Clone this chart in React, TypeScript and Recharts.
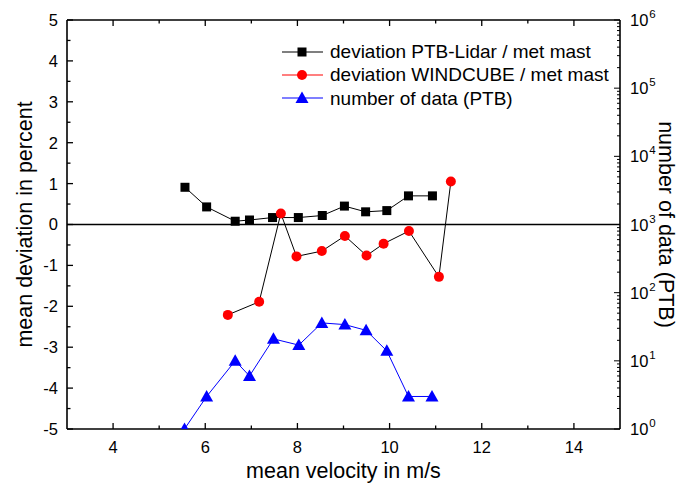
import React from 'react';
import { LineChart, Line, XAxis, YAxis, ReferenceLine, Legend, Label } from 'recharts';

// ---- data ----
const ptbVelocity = [5.56, 6.03, 6.65, 6.96, 7.46, 8.02, 8.54, 9.02, 9.48, 9.94, 10.41, 10.93];
const ptbDeviation = [0.91, 0.43, 0.08, 0.11, 0.17, 0.17, 0.22, 0.45, 0.31, 0.34, 0.7, 0.7];

const wcVelocity = [6.49, 7.17, 7.64, 7.98, 8.53, 9.03, 9.5, 9.87, 10.42, 11.07, 11.33];
const wcDeviation = [-2.21, -1.89, 0.27, -0.78, -0.65, -0.28, -0.76, -0.47, -0.16, -1.28, 1.05];

const countVelocity = [5.55, 6.03, 6.65, 6.96, 7.48, 8.03, 8.53, 9.03, 9.49, 9.94, 10.41, 10.92];
const countData = [1, 3, 10, 6, 21, 17, 36, 34, 28, 14, 3, 3];

// ---- ticks ----
const xTicks = [4, 5, 6, 7, 8, 9, 10, 11, 12, 13, 14];
const xMajorTicks = [4, 6, 8, 10, 12, 14];
const yTicks = [-5, -4.5, -4, -3.5, -3, -2.5, -2, -1.5, -1, -0.5, 0, 0.5, 1, 1.5, 2, 2.5, 3, 3.5, 4, 4.5, 5];
const rMajorTicks = [1, 10, 100, 1000, 10000, 100000, 1000000];
const rExponents = ['0', '1', '2', '3', '4', '5', '6'];
const rMinorMultipliers = [2, 3, 4, 5, 6, 7, 8, 9];

const rTicks: number[] = [];
rMajorTicks.forEach((m, i) => {
  rTicks.push(m);
  if (i < rMajorTicks.length - 1) rMinorMultipliers.forEach((k) => rTicks.push(m * k));
});

const seriesNames = [
  'deviation PTB-Lidar / met mast',
  'deviation WINDCUBE / met mast',
  'number of data (PTB)',
];
const seriesColors = ['#000000', '#ff0000', '#0000ff'];

const ptbData = ptbVelocity.map((x, i) => ({ x, y: ptbDeviation[i] }));
const wcData = wcVelocity.map((x, i) => ({ x, y: wcDeviation[i] }));
const countSeries = countVelocity.map((x, i) => ({ x, y: countData[i] }));

const FONT = '"Liberation Sans", Arial, sans-serif';
const TICK_FONT = 16.5;
const TITLE_FONT = 21.5;

// ---- tick renderers (ticks point inward) ----
const BottomTick = (props: any) => {
  const { x, y, payload } = props;
  const major = xMajorTicks.includes(payload.value);
  return (
    <g>
      <line x1={x} x2={x} y1={y} y2={y - (major ? 6 : 3.5)} stroke="#000" strokeWidth={1.3} />
      {major && (
        <text x={x} y={y + 24} textAnchor="middle" fontSize={TICK_FONT} fontFamily={FONT} fill="#000">
          {payload.value}
        </text>
      )}
    </g>
  );
};

const TopTick = (props: any) => {
  const { x, y, payload } = props;
  const major = xMajorTicks.includes(payload.value);
  return <line x1={x} x2={x} y1={y} y2={y + (major ? 6 : 3.5)} stroke="#000" strokeWidth={1.3} />;
};

const LeftTick = (props: any) => {
  const { x, y, payload } = props;
  const major = Number.isInteger(payload.value);
  return (
    <g>
      <line x1={x} x2={x + (major ? 6 : 3.5)} y1={y} y2={y} stroke="#000" strokeWidth={1.3} />
      {major && (
        <text x={x - 9} y={y} dy="0.36em" textAnchor="end" fontSize={TICK_FONT} fontFamily={FONT} fill="#000">
          {payload.value}
        </text>
      )}
    </g>
  );
};

const RightTick = (props: any) => {
  const { x, y, payload } = props;
  const idx = rMajorTicks.indexOf(payload.value);
  const major = idx >= 0;
  return (
    <g>
      <line x1={x} x2={x - (major ? 6 : 3)} y1={y} y2={y} stroke="#000" strokeWidth={1} />
      {major && (
        <text x={x + 10} y={y + 6} textAnchor="start" fontSize={TICK_FONT} fontFamily={FONT} fill="#000">
          10
          <tspan dx={1} dy={-8} fontSize={11.5}>
            {rExponents[idx]}
          </tspan>
        </text>
      )}
    </g>
  );
};

// ---- markers ----
const squareDot = (p: any) => (
  <rect key={`s${p.index}`} x={p.cx - 4.5} y={p.cy - 4.5} width={9} height={9} fill="#000" />
);
const circleDot = (p: any) => (
  <circle key={`c${p.index}`} cx={p.cx} cy={p.cy} r={5} fill="#ff0000" />
);
const triangleDot = (p: any) => (
  <polygon
    key={`t${p.index}`}
    points={`${p.cx},${p.cy - 6.5} ${p.cx + 6.5},${p.cy + 5} ${p.cx - 6.5},${p.cy + 5}`}
    fill="#0000ff"
  />
);

const LegendMarker = ({ i }: { i: number }) => {
  const c = seriesColors[i];
  if (i === 0) return <rect x={19.5} y={3.5} width={9} height={9} fill={c} />;
  if (i === 1) return <circle cx={24} cy={8} r={5} fill={c} />;
  return <polygon points="24,1.5 30.5,13 17.5,13" fill={c} />;
};

const LegendContent = () => (
  <div style={{ fontFamily: FONT, fontSize: 19, color: '#000', lineHeight: 1 }}>
    {seriesNames.map((name, i) => (
      <div key={name} style={{ display: 'flex', alignItems: 'center', height: 23.3 }}>
        <svg width={52} height={16} style={{ flex: 'none' }}>
          <line x1={4} x2={45} y1={8} y2={8} stroke={seriesColors[i]} strokeWidth={1.2} />
          <LegendMarker i={i} />
        </svg>
        <span style={{ whiteSpace: 'nowrap' }}>{name}</span>
      </div>
    ))}
  </div>
);

const BottomTitle = (props: any) => {
  const vb = props.viewBox;
  return (
    <text x={vb.x + vb.width / 2} y={vb.y + 49} textAnchor="middle" fontSize={TITLE_FONT} fontFamily={FONT} fill="#000">
      mean velocity in m/s
    </text>
  );
};

const LeftTitle = (props: any) => {
  const vb = props.viewBox;
  const cx = vb.x + 24;
  const cy = vb.y + vb.height / 2;
  return (
    <text x={cx} y={cy} dy="0.35em" textAnchor="middle" transform={`rotate(-90 ${cx} ${cy})`} fontSize={TITLE_FONT} fontFamily={FONT} fill="#000">
      mean deviation in percent
    </text>
  );
};

const RightTitle = (props: any) => {
  const vb = props.viewBox;
  const cx = vb.x + 47;
  const cy = vb.y + vb.height / 2;
  return (
    <text x={cx} y={cy} dy="0.35em" textAnchor="middle" transform={`rotate(90 ${cx} ${cy})`} fontSize={TITLE_FONT} fontFamily={FONT} fill="#000">
      number of data (PTB)
    </text>
  );
};

const frame = { stroke: '#000', strokeWidth: 1.6 };

export default function App() {
  return (
    <div style={{ position: 'absolute', left: 0, top: 0, width: 684, height: 487, background: '#fff' }}>
      <LineChart width={684} height={487} margin={{ top: 0, right: 0, bottom: 0, left: 0 }}>
        <XAxis
          xAxisId="b"
          type="number"
          dataKey="x"
          domain={[3, 15]}
          ticks={xTicks}
          interval={0}
          tickSize={0}
          tickMargin={0}
          tickLine={false}
          axisLine={frame}
          tick={<BottomTick />}
          height={58}
          allowDataOverflow
        >
          <Label content={<BottomTitle />} />
        </XAxis>
        <XAxis
          xAxisId="t"
          orientation="top"
          type="number"
          dataKey="x"
          domain={[3, 15]}
          ticks={xTicks}
          interval={0}
          tickSize={0}
          tickMargin={0}
          tickLine={false}
          axisLine={frame}
          tick={<TopTick />}
          height={20}
          allowDataOverflow
        />
        <YAxis
          yAxisId="l"
          type="number"
          domain={[-5, 5]}
          ticks={yTicks}
          interval={0}
          tickSize={0}
          tickMargin={0}
          tickLine={false}
          axisLine={frame}
          tick={<LeftTick />}
          width={67}
          allowDataOverflow
        >
          <Label content={<LeftTitle />} />
        </YAxis>
        <YAxis
          yAxisId="r"
          orientation="right"
          type="number"
          scale="log"
          domain={[1, 1000000]}
          ticks={rTicks}
          interval={0}
          tickSize={0}
          tickMargin={0}
          tickLine={false}
          axisLine={frame}
          tick={<RightTick />}
          width={64}
          allowDataOverflow
        >
          <Label content={<RightTitle />} />
        </YAxis>
        <ReferenceLine xAxisId="b" yAxisId="l" y={0} stroke="#000" strokeWidth={1.6} />
        <Line
          xAxisId="b"
          yAxisId="l"
          data={ptbData}
          dataKey="y"
          name={seriesNames[0]}
          stroke="#000"
          strokeWidth={1}
          dot={squareDot}
          isAnimationActive={false}
        />
        <Line
          xAxisId="b"
          yAxisId="l"
          data={wcData}
          dataKey="y"
          name={seriesNames[1]}
          stroke="#000"
          strokeWidth={1}
          dot={circleDot}
          isAnimationActive={false}
        />
        <Line
          xAxisId="b"
          yAxisId="r"
          data={countSeries}
          dataKey="y"
          name={seriesNames[2]}
          stroke="#0000ff"
          strokeWidth={1}
          dot={triangleDot}
          isAnimationActive={false}
        />
        <Legend
          layout="vertical"
          verticalAlign="middle"
          align="center"
          content={<LegendContent />}
          wrapperStyle={{ position: 'absolute', left: 278, top: 40, width: 340, height: 72 }}
        />
      </LineChart>
    </div>
  );
}
